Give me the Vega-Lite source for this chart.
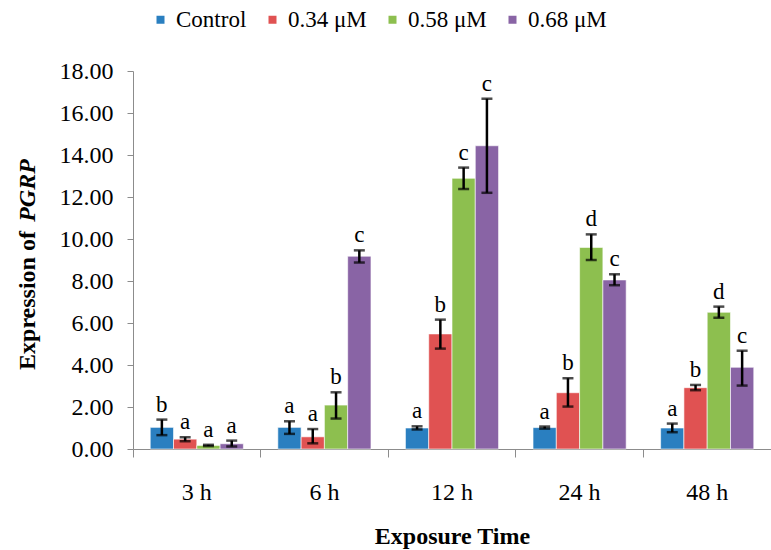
{
  "$schema": "https://vega.github.io/schema/vega-lite/v6.json",
  "width": 638,
  "height": 378,
  "autosize": {"type": "none"},
  "padding": {"left": 133, "top": 71, "right": 0, "bottom": 101},
  "background": "white",
  "config": {
    "font": "Liberation Serif",
    "view": {"stroke": null},
    "axis": {"grid": false, "domainColor": "#8c8c8c", "tickColor": "#8c8c8c", "labelColor": "black", "titleColor": "black", "labelFont": "Liberation Serif", "titleFont": "Liberation Serif"},
    "legend": {"labelFont": "Liberation Serif", "labelColor": "black", "padding": 0},
    "text": {"font": "Liberation Serif"}
  },
  "data": {
    "values": [
      {"time": "3 h", "group": "Control", "value": 1.03, "lo": 0.66, "hi": 1.40, "letter": "b"},
      {"time": "3 h", "group": "0.34 μM", "value": 0.47, "lo": 0.37, "hi": 0.56, "letter": "a"},
      {"time": "3 h", "group": "0.58 μM", "value": 0.17, "lo": 0.14, "hi": 0.20, "letter": "a"},
      {"time": "3 h", "group": "0.68 μM", "value": 0.25, "lo": 0.12, "hi": 0.40, "letter": "a"},
      {"time": "6 h", "group": "Control", "value": 1.03, "lo": 0.72, "hi": 1.32, "letter": "a"},
      {"time": "6 h", "group": "0.34 μM", "value": 0.58, "lo": 0.27, "hi": 0.95, "letter": "a"},
      {"time": "6 h", "group": "0.58 μM", "value": 2.09, "lo": 1.45, "hi": 2.70, "letter": "b"},
      {"time": "6 h", "group": "0.68 μM", "value": 9.18, "lo": 8.88, "hi": 9.46, "letter": "c"},
      {"time": "12 h", "group": "Control", "value": 1.00, "lo": 0.93, "hi": 1.08, "letter": "a"},
      {"time": "12 h", "group": "0.34 μM", "value": 5.48, "lo": 4.78, "hi": 6.16, "letter": "b"},
      {"time": "12 h", "group": "0.58 μM", "value": 12.89, "lo": 12.38, "hi": 13.40, "letter": "c"},
      {"time": "12 h", "group": "0.68 μM", "value": 14.44, "lo": 12.20, "hi": 16.68, "letter": "c"},
      {"time": "24 h", "group": "Control", "value": 1.02, "lo": 0.97, "hi": 1.07, "letter": "a"},
      {"time": "24 h", "group": "0.34 μM", "value": 2.68, "lo": 2.02, "hi": 3.37, "letter": "b"},
      {"time": "24 h", "group": "0.58 μM", "value": 9.60, "lo": 9.00, "hi": 10.22, "letter": "d"},
      {"time": "24 h", "group": "0.68 μM", "value": 8.05, "lo": 7.80, "hi": 8.32, "letter": "c"},
      {"time": "48 h", "group": "Control", "value": 1.00, "lo": 0.80, "hi": 1.21, "letter": "a"},
      {"time": "48 h", "group": "0.34 μM", "value": 2.92, "lo": 2.80, "hi": 3.05, "letter": "b"},
      {"time": "48 h", "group": "0.58 μM", "value": 6.51, "lo": 6.25, "hi": 6.78, "letter": "d"},
      {"time": "48 h", "group": "0.68 μM", "value": 3.89, "lo": 3.02, "hi": 4.68, "letter": "c"}
    ]
  },
  "encoding": {
    "x": {
      "field": "time", "type": "nominal", "sort": ["3 h", "6 h", "12 h", "24 h", "48 h"],
      "scale": {"paddingInner": 0, "paddingOuter": 0},
      "axis": {"title": "Exposure Time", "labelAngle": 0, "labelFontSize": 24, "titleFontSize": 24, "titleFontWeight": "bold", "bandPosition": 0, "tickSize": 8, "labelPadding": 23, "titlePadding": 20}
    },
    "xOffset": {"field": "group", "type": "nominal", "sort": ["Control", "0.34 μM", "0.58 μM", "0.68 μM"], "scale": {"paddingInner": 0, "paddingOuter": 0.74}}
  },
  "layer": [
    {
      "mark": {"type": "bar", "stroke": "white", "strokeWidth": 0.6},
      "encoding": {
        "y": {"field": "value", "type": "quantitative", "scale": {"domain": [0, 18], "nice": false},
          "axis": {"orient": "left", "values": [0, 2, 4, 6, 8, 10, 12, 14, 16, 18], "format": ".2f", "labelFontSize": 24, "tickSize": 6, "labelPadding": 14,
            "title": "Expression of", "titleFontSize": 24, "titleFontWeight": "bold", "titleX": -106, "titleY": 229, "titleAngle": -90, "titleAlign": "center", "titleBaseline": "middle"}},
        "color": {"field": "group", "type": "nominal", "sort": ["Control", "0.34 μM", "0.58 μM", "0.68 μM"],
          "scale": {"domain": ["Control", "0.34 μM", "0.58 μM", "0.68 μM"], "range": ["#2a7fc0", "#e05252", "#8dbf4f", "#8964a5"]},
          "legend": {"title": null, "orient": "none", "legendX": 16, "legendY": -63, "direction": "horizontal", "columns": 4, "symbolType": "square", "symbolSize": 64, "symbolStrokeWidth": 0, "labelFontSize": 23, "labelOffset": 4, "columnPadding": 14}}
      }
    },
    {
      "mark": {"type": "rule", "color": "black", "strokeWidth": 2.5},
      "encoding": {
        "y": {"field": "lo", "type": "quantitative",
          "axis": {"orient": "left", "labels": false, "ticks": false, "domain": false, "title": "PGRP", "titleFontSize": 24, "titleFontWeight": "bold", "titleFontStyle": "italic", "titleX": -106, "titleY": 119, "titleAngle": -90, "titleAlign": "center", "titleBaseline": "middle"}},
        "y2": {"field": "hi"}
      }
    },
    {
      "mark": {"type": "tick", "color": "black", "thickness": 2.5, "size": 11, "orient": "horizontal"},
      "encoding": {"y": {"field": "lo", "type": "quantitative", "axis": null}}
    },
    {
      "mark": {"type": "tick", "color": "black", "thickness": 2.5, "size": 11, "orient": "horizontal"},
      "encoding": {"y": {"field": "hi", "type": "quantitative", "axis": null}}
    },
    {
      "mark": {"type": "text", "fontSize": 23, "baseline": "alphabetic", "dy": -8, "color": "black"},
      "encoding": {"y": {"field": "hi", "type": "quantitative", "axis": null}, "text": {"field": "letter"}}
    }
  ],
  "resolve": {"axis": {"y": "independent"}}
}
